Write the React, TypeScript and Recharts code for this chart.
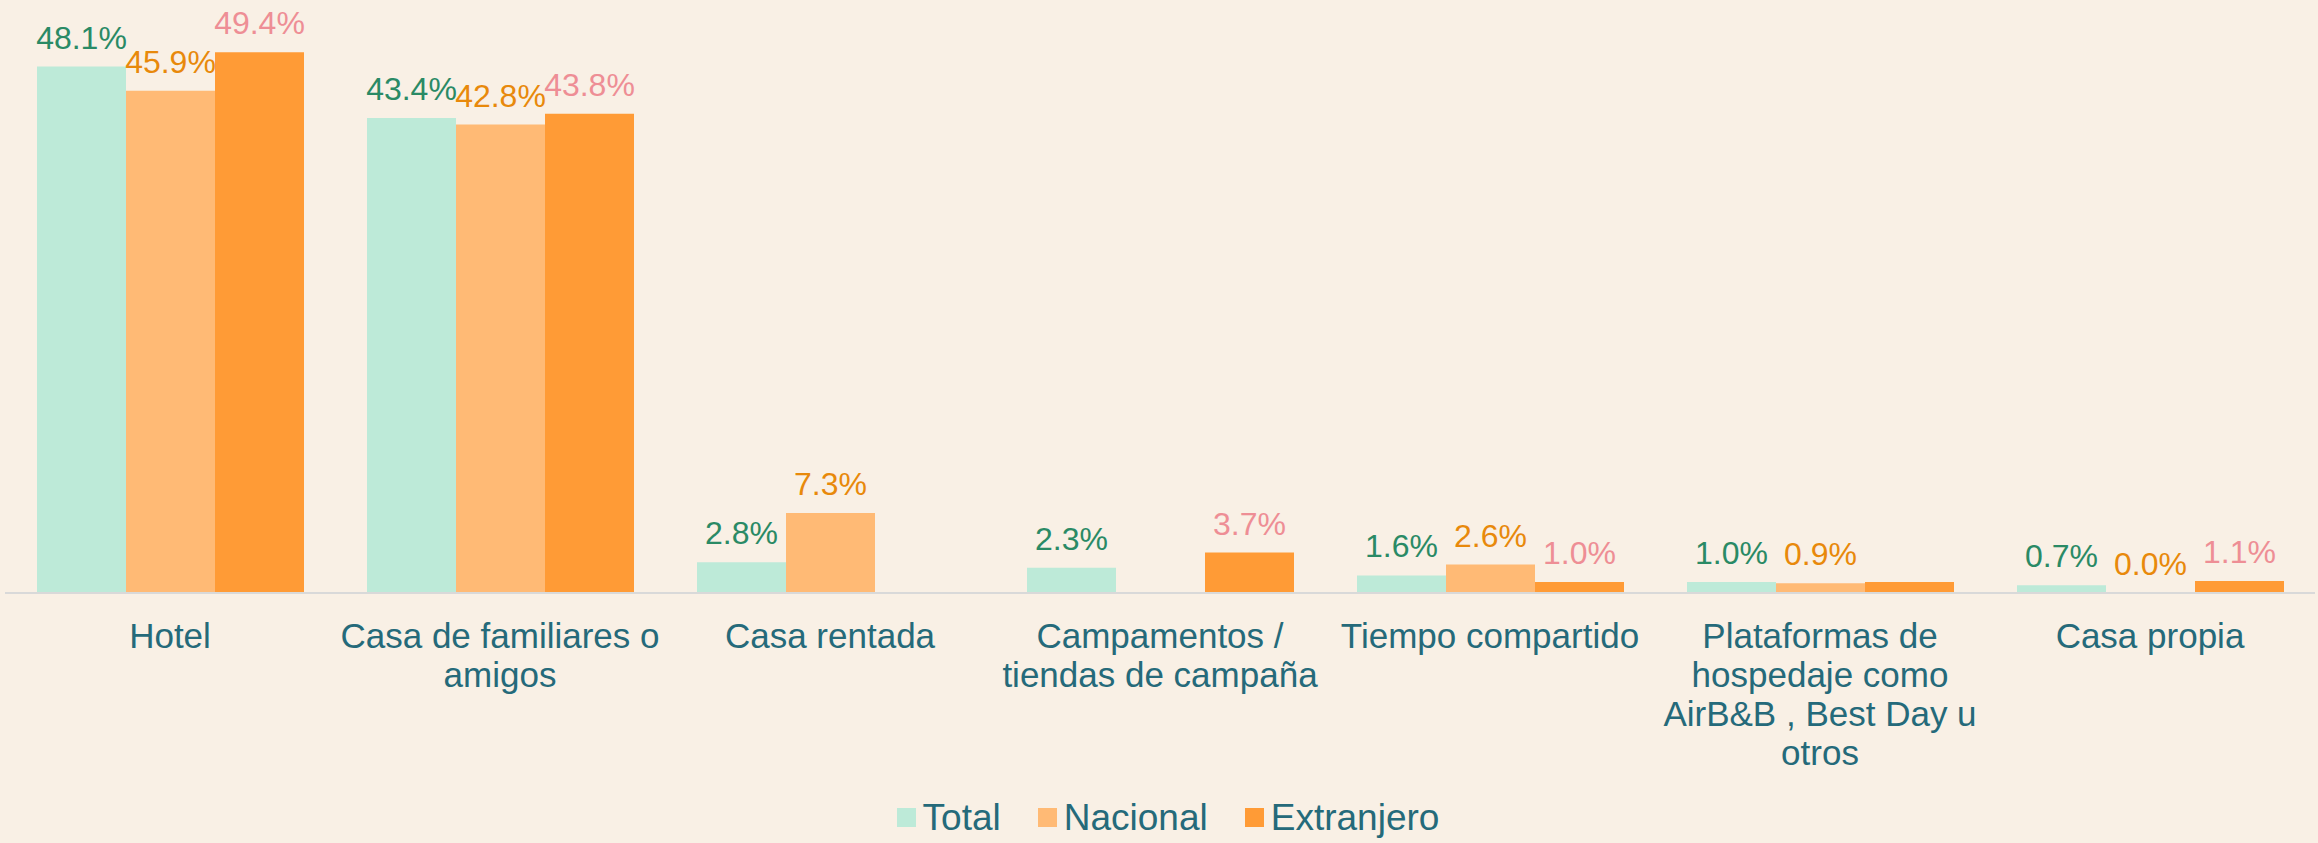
import React from 'react';
import { BarChart, Bar, XAxis, YAxis, Legend, LabelList } from 'recharts';

const categories = [
  'Hotel',
  'Casa de familiares o amigos',
  'Casa rentada',
  'Campamentos / tiendas de campaña',
  'Tiempo compartido',
  'Plataformas de hospedaje como AirB&B , Best Day u otros',
  'Casa propia',
];
const tickLines = [
  ['Hotel'],
  ['Casa de familiares o', 'amigos'],
  ['Casa rentada'],
  ['Campamentos /', 'tiendas de campaña'],
  ['Tiempo compartido'],
  ['Plataformas de', 'hospedaje como', 'AirB&B , Best Day u', 'otros'],
  ['Casa propia'],
];
const totalValues = [48.1, 43.4, 2.8, 2.3, 1.6, 1.0, 0.7];
const nacionalValues = [45.9, 42.8, 7.3, null, 2.6, 0.9, 0.0];
const extranjeroValues = [49.4, 43.8, null, 3.7, 1.0, 1.0, 1.1];
// which value labels are printed (the reference omits one)
const totalShowLabel = [true, true, true, true, true, true, true];
const nacionalShowLabel = [true, true, true, true, true, true, true];
const extranjeroShowLabel = [true, true, true, true, true, false, true];

const seriesNames = ['Total', 'Nacional', 'Extranjero'];
const barColors = ['#BDEAD8', '#FFBA75', '#FF9B36'];
const labelColors = ['#2A8A65', '#E8890B', '#EE8E95'];

const fmt = (v: number | null, show: boolean) =>
  v === null || !show ? null : `${v.toFixed(1)}%`;

const data = categories.map((c, i) => ({
  category: c,
  Total: totalValues[i],
  Nacional: nacionalValues[i],
  Extranjero: extranjeroValues[i],
  TotalLabel: fmt(totalValues[i], totalShowLabel[i]),
  NacionalLabel: fmt(nacionalValues[i], nacionalShowLabel[i]),
  ExtranjeroLabel: fmt(extranjeroValues[i], extranjeroShowLabel[i]),
}));

const FONT = "'Liberation Sans', Arial, Helvetica, sans-serif";
const TEXT = '#256A7A';
const BG = '#F9F0E5';

const Tick = (props: any) => {
  const { x, y, payload } = props;
  const idx = categories.indexOf(payload.value);
  const lines = idx >= 0 ? tickLines[idx] : [String(payload.value)];
  return (
    <text x={x} y={y + 53} textAnchor="middle" fill={TEXT} fontSize={35} fontFamily={FONT}>
      {lines.map((l, i) => (
        <tspan key={i} x={x} dy={i === 0 ? 0 : 38.9}>
          {l}
        </tspan>
      ))}
    </text>
  );
};

const makeLabel = (color: string) => (props: any) => {
  const { x, y, width, value } = props;
  if (value === null || value === undefined || value === '') return null;
  return (
    <text
      x={Number(x) + Number(width) / 2}
      y={Number(y) - 18}
      textAnchor="middle"
      fill={color}
      fontSize={32}
      fontFamily={FONT}
    >
      {value}
    </text>
  );
};

const LegendContent = () => (
  <div
    style={{
      height: 52,
      display: 'flex',
      alignItems: 'center',
      justifyContent: 'center',
      paddingLeft: 16,
      fontFamily: FONT,
      fontSize: 37,
      color: TEXT,
      lineHeight: 1,
    }}
  >
    {seriesNames.map((n, i) => (
      <div key={n} style={{ display: 'flex', alignItems: 'center', marginRight: i < 2 ? 37 : 0 }}>
        <div style={{ width: 19, height: 19, background: barColors[i], marginRight: 7 }} />
        <span>{n}</span>
      </div>
    ))}
  </div>
);

export default function App() {
  return (
    <div style={{ position: 'absolute', left: 0, top: 0, width: 2318, height: 843, background: BG }}>
      <BarChart
        width={2318}
        height={843}
        data={data}
        margin={{ top: 2, right: 3, left: 5, bottom: 0 }}
        barCategoryGap={32}
        barGap={0}
      >
        <XAxis
          dataKey="category"
          tick={<Tick />}
          tickLine={false}
          tickSize={0}
          tickMargin={2}
          interval={0}
          height={198}
          axisLine={{ stroke: '#D9D9D9', strokeWidth: 2 }}
        />
        <YAxis hide domain={[0, 54]} />
        <Legend verticalAlign="bottom" height={52} content={<LegendContent />} />
        {seriesNames.map((n, i) => (
          <Bar
            key={n}
            dataKey={n}
            fill={barColors[i]}
            isAnimationActive={false}
            minPointSize={(v: any) => (v === 0 ? 0.01 : 0)}
          >
            <LabelList dataKey={`${n}Label`} content={makeLabel(labelColors[i])} />
          </Bar>
        ))}
      </BarChart>
    </div>
  );
}
